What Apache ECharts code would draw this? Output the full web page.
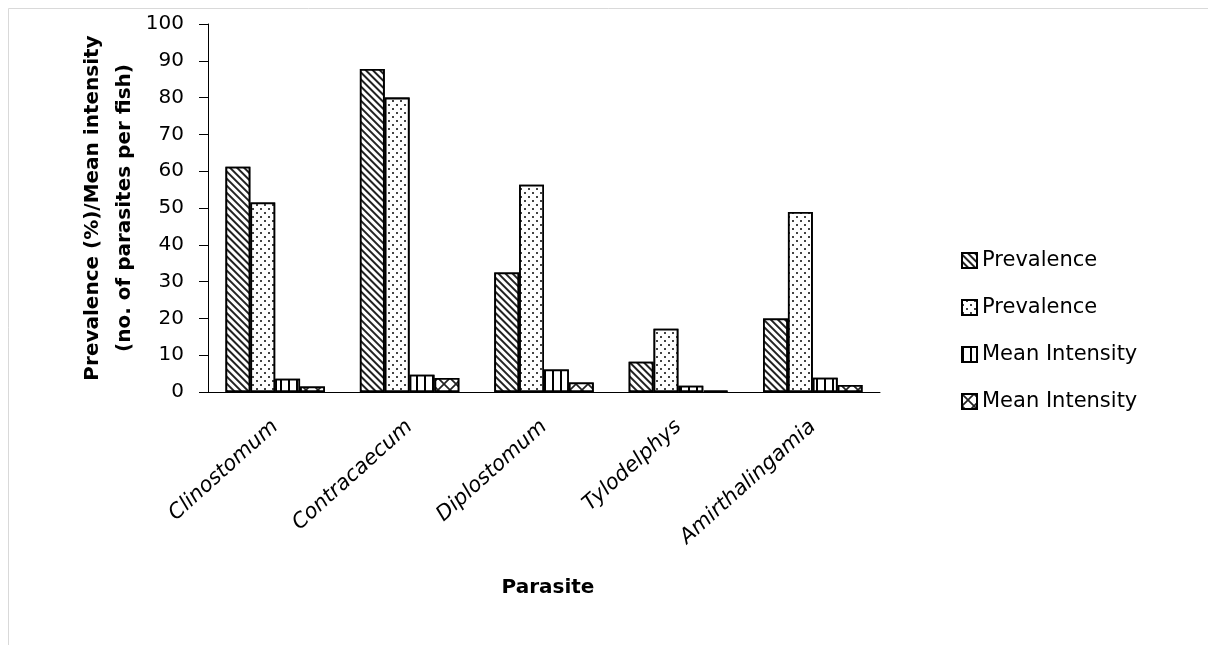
<!DOCTYPE html>
<html><head><meta charset="utf-8">
<script src="https://cdn.jsdelivr.net/npm/echarts@6/dist/echarts.min.js"></script>
<style>html,body{margin:0;padding:0;background:#fff}#c{width:1208px;height:645px}</style>
</head><body><div id="c"></div>
<script>
const categories = ['Clinostomum', 'Contracaecum', 'Diplostomum', 'Tylodelphys', 'Amirthalingamia'];
const seriesNames = ['Prevalence', 'Prevalence', 'Mean Intensity', 'Mean Intensity'];
const prevalenceA = [61.2, 87.8, 32.5, 8.2, 20.0];
const prevalenceB = [51.5, 80.0, 56.3, 17.2, 48.9];
const intensityA = [3.6, 4.7, 6.1, 1.7, 3.9];
const intensityB = [1.5, 3.8, 2.6, 0.3, 1.9];
const yTicks = [0, 10, 20, 30, 40, 50, 60, 70, 80, 90, 100];

const FONT = 'DejaVu Sans';
const decals = [
  { symbol: 'rect', symbolSize: 1, dashArrayX: [1, 0], dashArrayY: [1.3, 3], rotation: Math.PI / 4, color: '#222', backgroundColor: '#fff' },
  { symbol: 'rect', symbolSize: 1, dashArrayX: [[2, 6], [0, 4, 2, 2]], dashArrayY: [2, 2], rotation: 0, color: '#444', backgroundColor: '#fff' },
  { symbol: 'rect', symbolSize: 1, dashArrayX: [2, 6], dashArrayY: [1, 0], rotation: 0, color: '#000', backgroundColor: '#fff' },
  { symbol: 'path://M0,0L1,0L5,4L9,0L10,0L10,1L6,5L10,9L10,10L9,10L5,6L1,10L0,10L0,9L4,5L0,1Z', symbolSize: 1, dashArrayX: [[12, 0]], dashArrayY: [12, 0], rotation: 0, color: '#222', backgroundColor: '#fff' }
];
const dataSets = [prevalenceA, prevalenceB, intensityA, intensityB];

const chart = echarts.init(document.getElementById('c'), null, { renderer: 'canvas' });
chart.setOption({
  backgroundColor: '#fff',
  animation: false,
  aria: { enabled: false },
  graphic: [{ type: 'rect', shape: { x: 8.5, y: 8.5, width: 1300, height: 700 }, style: { fill: 'none', stroke: '#d9d9d9', lineWidth: 1 } }],
  grid: { left: 208, right: 328, top: 24, bottom: 253 },
  legend: {
    orient: 'vertical', left: 956, top: 243,
    itemWidth: 15, itemHeight: 15, itemGap: 22,
    textStyle: { fontFamily: FONT, fontSize: 21, color: '#000', lineHeight: 25 },
    data: seriesNames.map((n, i) => ({ name: n + '\u200B'.repeat(i), icon: 'rect' }))
  },
  xAxis: {
    type: 'category', data: categories,
    axisLine: { lineStyle: { color: '#000', width: 1 } },
    axisTick: { show: false },
    axisLabel: { rotate: 42, fontStyle: 'italic', fontFamily: FONT, fontSize: 21, color: '#000', margin: 32, interval: 0 },
    name: 'Parasite', nameLocation: 'middle', nameGap: 186,
    nameTextStyle: { fontFamily: FONT, fontSize: 20, fontWeight: 'bold', color: '#000', padding: [0, 0, 0, 8] }
  },
  yAxis: {
    type: 'value', min: yTicks[0], max: yTicks[yTicks.length - 1], interval: 10,
    splitLine: { show: false },
    axisLine: { show: true, lineStyle: { color: '#000', width: 1 } },
    axisTick: { show: true, inside: false, length: 9, lineStyle: { color: '#000' } },
    axisLabel: { fontFamily: FONT, fontSize: 20, color: '#000', margin: 24 },
    name: 'Prevalence (%)/Mean intensity\n(no. of parasites per fish)', nameLocation: 'middle', nameGap: 67,
    nameMoveOverlap: false,
    nameTextStyle: { fontFamily: FONT, fontSize: 20, fontWeight: 'bold', color: '#000', lineHeight: 32 }
  },
  series: dataSets.map((d, i) => ({
    type: 'bar', name: seriesNames[i] + '\u200B'.repeat(i), data: d,
    barGap: '0%', barCategoryGap: '26%',
    itemStyle: { color: '#fff', borderColor: '#000', borderWidth: 1.8, decal: decals[i] }
  }))
});
</script></body></html>
